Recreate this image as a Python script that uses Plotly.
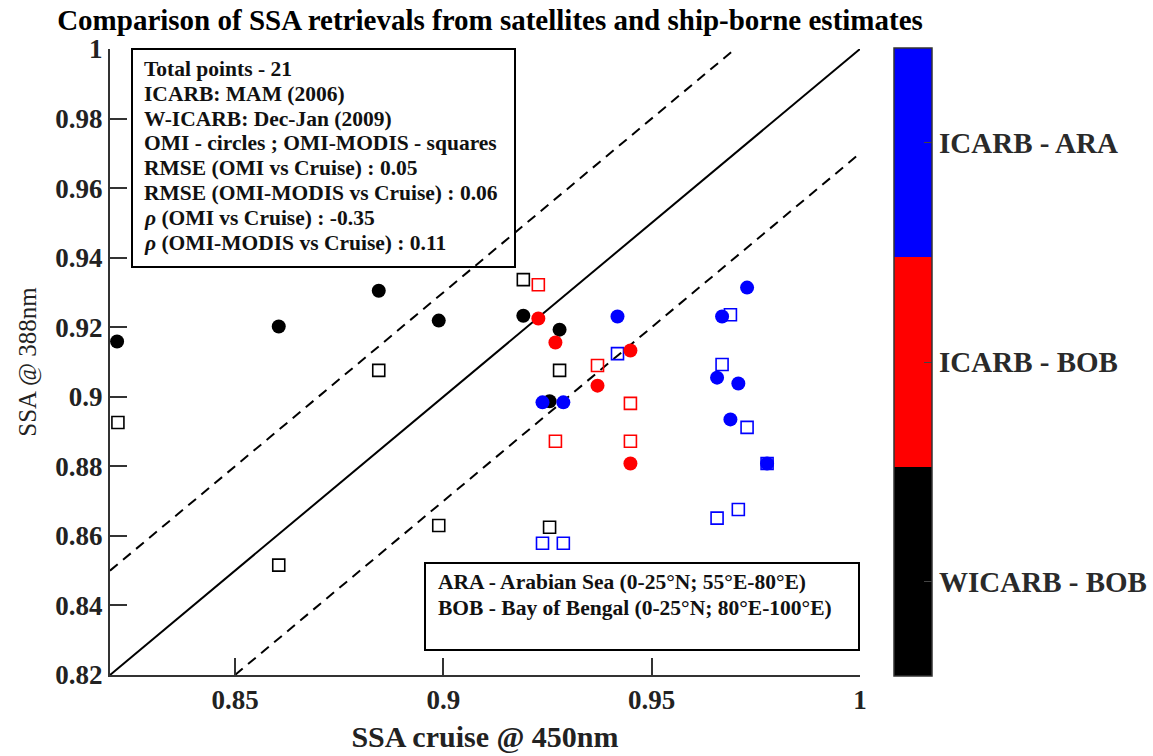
import plotly.graph_objects as go

# ---- data ----
group_names = ["WICARB - BOB", "ICARB - BOB", "ICARB - ARA"]
group_colors = ["black", "red", "blue"]
group_ids = [1, 2, 3]

# OMI (circles)
omi_x = [0.8217, 0.8605, 0.8845, 0.8989, 0.9192, 0.9279, 0.9255,
         0.9228, 0.9269, 0.9370, 0.9449, 0.9449,
         0.9418, 0.9729, 0.9669, 0.9657, 0.9708, 0.9689, 0.9777, 0.9238, 0.9288]
omi_y = [0.9159, 0.9202, 0.9305, 0.9219, 0.9233, 0.9193, 0.8987,
         0.9225, 0.9156, 0.9032, 0.9133, 0.8808,
         0.9231, 0.9314, 0.9231, 0.9055, 0.9038, 0.8935, 0.8808, 0.8984, 0.8984]
omi_group = [1, 1, 1, 1, 1, 1, 1,
             2, 2, 2, 2, 2,
             3, 3, 3, 3, 3, 3, 3, 3, 3]

# OMI-MODIS (squares)
mod_x = [0.8219, 0.8845, 0.8605, 0.8989, 0.9192, 0.9279, 0.9255,
         0.9228, 0.9370, 0.9449, 0.9449, 0.9269,
         0.9418, 0.9689, 0.9669, 0.9729, 0.9777, 0.9708, 0.9657, 0.9238, 0.9288]
mod_y = [0.8926, 0.9076, 0.8516, 0.8630, 0.9337, 0.9076, 0.8625,
         0.9322, 0.9090, 0.8981, 0.8872, 0.8872,
         0.9124, 0.9236, 0.9093, 0.8912, 0.8808, 0.8676, 0.8651, 0.8579, 0.8579]
mod_group = [1, 1, 1, 1, 1, 1, 1,
             2, 2, 2, 2, 2,
             3, 3, 3, 3, 3, 3, 3, 3, 3]

line_offsets = [0.0, 0.03, -0.03]
axis_min, axis_max = 0.82, 1.0
cbar_min, cbar_max = 0.571, 3.43

info_lines = [
    "Total points - 21",
    "ICARB: MAM (2006)",
    "W-ICARB: Dec-Jan (2009)",
    "OMI - circles ; OMI-MODIS - squares",
    "RMSE (OMI vs Cruise) : 0.05",
    "RMSE (OMI-MODIS vs Cruise) : 0.06",
    "<i>ρ</i> (OMI vs Cruise) : -0.35",
    "<i>ρ</i> (OMI-MODIS vs Cruise) : 0.11",
]
region_lines = [
    "ARA - Arabian Sea (0-25°N; 55°E-80°E)",
    "BOB - Bay of Bengal (0-25°N; 80°E-100°E)",
]

FONT = "Liberation Serif"
colorscale = [[0, group_colors[0]], [1/3, group_colors[0]],
              [1/3, group_colors[1]], [2/3, group_colors[1]],
              [2/3, group_colors[2]], [1, group_colors[2]]]

# plot area in pixels
L, R, T, B = 110, 860, 49, 675
W, H = R - L, B - T


def px(xp):
    return (xp - L) / W


def py(yp):
    return 1 - (yp - T) / H


fig = go.Figure()

# reference lines (1:1 and +/-0.03)
for off in line_offsets:
    x0 = max(axis_min, axis_min - off)
    x1 = min(axis_max, axis_max - off)
    fig.add_trace(go.Scatter(
        x=[x0, x1], y=[x0 + off, x1 + off], mode="lines",
        line=dict(color="black", width=2,
                  dash="solid" if off == 0 else "10px,7px"),
        showlegend=False, hoverinfo="skip"))

fig.add_trace(go.Scatter(
    x=mod_x, y=mod_y, mode="markers", showlegend=False,
    marker=dict(symbol="square-open", size=12, color=mod_group,
                colorscale=colorscale, cmin=cbar_min, cmax=cbar_max,
                line=dict(width=1.6))))

fig.add_trace(go.Scatter(
    x=omi_x, y=omi_y, mode="markers", showlegend=False,
    marker=dict(symbol="circle", size=14, color=omi_group,
                colorscale=colorscale, cmin=cbar_min, cmax=cbar_max,
                showscale=True,
                colorbar=dict(
                    x=px(894), xanchor="left", xref="paper",
                    y=py(676), yanchor="bottom", len=(676 - 48) / H,
                    lenmode="fraction",
                    thickness=38, xpad=0, ypad=0,
                    outlinewidth=1.5, outlinecolor="#333",
                    tickvals=group_ids,
                    ticktext=["<b>%s</b>" % n for n in group_names],
                    ticks="inside", ticklen=8, tickcolor="#444", tickwidth=1,
                    tickfont=dict(family=FONT, size=29, color="#2a2a2a")))))

# info box
fig.add_shape(type="rect", xref="paper", yref="paper",
              x0=px(132), x1=px(515), y0=py(267), y1=py(49),
              line=dict(color="black", width=2), fillcolor="white", layer="below")
for i, t in enumerate(info_lines):
    fig.add_annotation(xref="paper", yref="paper",
                       x=px(142), y=py(69 + 24.8 * i),
                       xanchor="left", yanchor="middle", align="left",
                       text="<b>%s</b>" % t, showarrow=False,
                       font=dict(family=FONT, size=21.5, color="#111"))

# region box
fig.add_shape(type="rect", xref="paper", yref="paper",
              x0=px(425), x1=px(859), y0=py(650), y1=py(563),
              line=dict(color="black", width=2), fillcolor="white", layer="below")
for i, t in enumerate(region_lines):
    fig.add_annotation(xref="paper", yref="paper",
                       x=px(436), y=py(582 + 26 * i),
                       xanchor="left", yanchor="middle", align="left",
                       text="<b>%s</b>" % t, showarrow=False,
                       font=dict(family=FONT, size=21.5, color="#111"))

axis_common = dict(showline=True, linewidth=2, linecolor="#333",
                   ticks="inside", ticklen=17, tickwidth=2, tickcolor="#333",
                   showgrid=False, zeroline=False, mirror=False,
                   tickfont=dict(family=FONT, size=27, color="#222", weight="bold"))

fig.update_layout(
    width=1153, height=756,
    margin=dict(l=L, r=1153 - R, t=T, b=756 - B, autoexpand=False),
    plot_bgcolor="white", paper_bgcolor="white",
    showlegend=False,
    title=dict(text="<b>Comparison of SSA retrievals from satellites and ship-borne estimates</b>",
               x=490 / 1153, xanchor="center", xref="container",
               y=1 - 20 / 756, yanchor="middle", yref="container",
               font=dict(family=FONT, size=29, color="black")),
    xaxis=dict(range=[axis_min, axis_max], tick0=0.85, dtick=0.05,
               title=dict(text="<b>SSA cruise @ 450nm</b>", standoff=12,
                          font=dict(family=FONT, size=30, color="#222")),
               **axis_common),
    yaxis=dict(range=[axis_min, axis_max], tick0=0.82, dtick=0.02,
               title=dict(text="SSA @ 388nm", standoff=12,
                          font=dict(family=FONT, size=25, color="#222")),
               **axis_common),
)

fig.write_html("out.html")
